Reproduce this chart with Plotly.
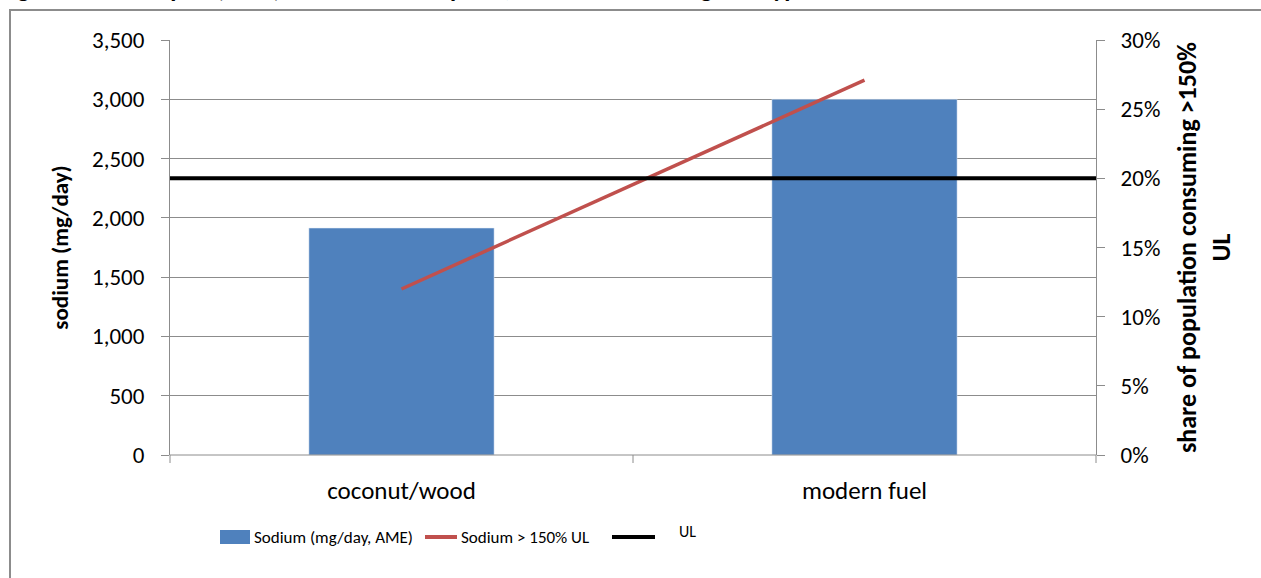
import plotly.graph_objects as go

categories = ["coconut/wood", "modern fuel"]
sodium_mg = [1914, 3000]
share_over_150ul = [0.12, 0.271]
ul_mg = 2333
bar_name = "Sodium (mg/day, AME)"
line_name = "Sodium > 150% UL"
ul_label = "UL"
title_text = "Figure 15: Per capita (AME) sodium consumption, household cooking fuel type"

W, H = 1261, 578
L, R, T, B = 170, 165, 40, 123
pw, ph = W - L - R, H - T - B

def px(x):
    return (x - L) / pw

def py(y):
    return (H - B - y) / ph

FONT = "Carlito, Lato, sans-serif"
GRID = "#8c8c8c"

fig = go.Figure()
fig.add_trace(go.Bar(
    x=categories, y=sodium_mg, name=bar_name,
    marker=dict(color="#4F81BD"), width=0.4, xaxis="x", yaxis="y",
))
fig.add_trace(go.Scatter(
    x=categories, y=share_over_150ul, name=line_name, mode="lines",
    line=dict(color="#C0504D", width=3.5), xaxis="x", yaxis="y2",
))
fig.add_trace(go.Scatter(
    x=[0, 1], y=[ul_mg, ul_mg], name=ul_label, mode="lines",
    line=dict(color="#000000", width=4), xaxis="x2", yaxis="y",
))

fig.update_layout(
    width=W, height=H,
    margin=dict(l=L, r=R, t=T, b=B),
    paper_bgcolor="white", plot_bgcolor="white",
    font=dict(family=FONT, size=23, color="#000"),
    showlegend=False,
    xaxis=dict(
        type="category", range=[-0.5, 1.5], showgrid=False, zeroline=False,
        showline=False, ticks="", tickfont=dict(size=25), ticklabelstandoff=18,
    ),
    xaxis2=dict(range=[0, 1], overlaying="x", visible=False),
    yaxis=dict(
        range=[0, 3500], dtick=500, tickformat=",", showgrid=True, gridcolor=GRID,
        gridwidth=1, zeroline=False, showline=True, linecolor=GRID, linewidth=1,
        ticks="outside", ticklen=8, tickcolor=GRID, ticklabelstandoff=12,
        tickfont=dict(size=23),
        title=dict(text="<b>sodium (mg/day)</b>", font=dict(size=23), standoff=16),
    ),
    yaxis2=dict(
        range=[0, 0.30], dtick=0.05, tickformat=".0%", overlaying="y", side="right",
        showgrid=False, zeroline=False, showline=True, linecolor=GRID, linewidth=1,
        ticks="outside", ticklen=8, tickcolor=GRID, ticklabelstandoff=11,
        tickfont=dict(size=23),
        title=dict(text="<b>share of population consuming >150%<br>UL</b>", font=dict(size=26), standoff=18),
    ),
)

# x axis baseline and category boundary ticks
fig.add_shape(type="line", xref="paper", yref="paper", x0=0, x1=1, y0=0, y1=0,
              line=dict(color=GRID, width=1))
for xv in [0, 0.5, 1]:
    fig.add_shape(type="line", xref="paper", yref="paper", x0=xv, x1=xv, y0=0, y1=-8 / ph,
                  line=dict(color=GRID, width=1))

# outer chart frame
fig.add_shape(type="rect", xref="paper", yref="paper", x0=px(10), x1=px(1275), y0=py(10), y1=py(600),
              line=dict(color=GRID, width=2), layer="below")

# legend (placed manually to match the reference spacing)
LY = 537
LF = dict(size=17)
fig.add_shape(type="rect", xref="paper", yref="paper", x0=px(220), x1=px(250), y0=py(544), y1=py(530),
              fillcolor="#4F81BD", line=dict(width=0))
fig.add_annotation(text=bar_name, xref="paper", yref="paper", x=px(252), y=py(LY),
                   xanchor="left", yanchor="middle", showarrow=False, font=LF)
fig.add_shape(type="line", xref="paper", yref="paper", x0=px(425), x1=px(457), y0=py(LY), y1=py(LY),
              line=dict(color="#C0504D", width=4))
fig.add_annotation(text=line_name, xref="paper", yref="paper", x=px(459), y=py(LY),
                   xanchor="left", yanchor="middle", showarrow=False, font=LF)
fig.add_shape(type="line", xref="paper", yref="paper", x0=px(612), x1=px(655), y0=py(LY), y1=py(LY),
              line=dict(color="#000", width=4))
fig.add_annotation(text=ul_label, xref="paper", yref="paper", x=px(677), y=py(531),
                   xanchor="left", yanchor="middle", showarrow=False, font=dict(size=16))

# title (clipped at the top edge, as in the reference)
fig.add_annotation(text="<b>" + title_text + "</b>", xref="paper", yref="paper", x=px(-2), y=py(6),
                   xanchor="left", yanchor="bottom", showarrow=False, font=dict(size=25))

fig.write_html("out.html")
